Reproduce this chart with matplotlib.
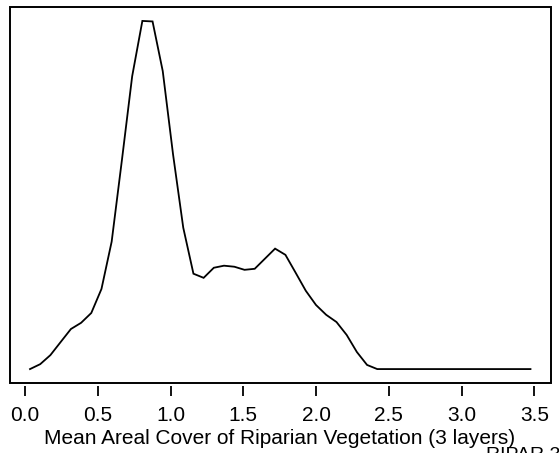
import matplotlib
matplotlib.use("Agg")
import matplotlib.pyplot as plt
from matplotlib.patches import Rectangle

# Density estimate of mean areal cover of riparian vegetation (3 layers)
x_vals = [0.034, 0.104, 0.174, 0.245, 0.315, 0.385, 0.455, 0.525, 0.595, 0.666,
          0.736, 0.806, 0.876, 0.946, 1.017, 1.087, 1.157, 1.227, 1.297, 1.367,
          1.438, 1.508, 1.578, 1.648, 1.718, 1.789, 1.859, 1.929, 1.999, 2.069,
          2.140, 2.210, 2.280, 2.350, 2.420, 2.491, 2.561, 2.631, 2.701, 2.771,
          2.841, 2.912, 2.982, 3.052, 3.122, 3.192, 3.263, 3.333, 3.403, 3.473]
density = [0.000, 0.019, 0.054, 0.105, 0.155, 0.179, 0.217, 0.310, 0.493, 0.811,
           1.133, 1.347, 1.345, 1.153, 0.830, 0.547, 0.369, 0.353, 0.392, 0.400,
           0.396, 0.384, 0.388, 0.427, 0.466, 0.442, 0.373, 0.303, 0.248, 0.210,
           0.182, 0.132, 0.066, 0.016, 0.000, 0.000, 0.000, 0.000, 0.000, 0.000,
           0.000, 0.000, 0.000, 0.000, 0.000, 0.000, 0.000, 0.000, 0.000, 0.000]
x_ticks = [0.0, 0.5, 1.0, 1.5, 2.0, 2.5, 3.0, 3.5]
x_tick_labels = ["0.0", "0.5", "1.0", "1.5", "2.0", "2.5", "3.0", "3.5"]
x_label = "Mean Areal Cover of Riparian Vegetation (3 layers)"
var_name = "RIPAR 3"

plt.rcParams['font.family'] = ['Liberation Sans', 'DejaVu Sans']

W, H = 559, 453
fig = plt.figure(figsize=(W / 100, H / 100), dpi=100)
L, R, T, B = 10, 550.5, 7, 383
ax = fig.add_axes([L / W, (H - B) / H, (R - L) / W, (B - T) / H])

ax.plot(x_vals, density, color='black', lw=1.3, solid_joinstyle='miter')

# R-style 4% padding
xr = max(x_vals) - min(x_vals)
yr = max(density) - min(density)
ax.set_xlim(min(x_vals) - 0.04 * xr, max(x_vals) + 0.04 * xr)
ax.set_ylim(min(density) - 0.04 * yr, max(density) + 0.04 * yr)

for s in ax.spines.values():
    s.set_visible(False)
ax.spines['bottom'].set_position(('outward', 2.5))
ax.add_patch(Rectangle((0, 0), 1, 1, transform=ax.transAxes, fill=False,
                       edgecolor='black', lw=1.4, clip_on=False))

ax.set_yticks([])
ax.set_xticks(x_ticks)
ax.set_xticklabels(x_tick_labels)
ax.tick_params(axis='x', direction='out', length=7.2, width=1.3, pad=7.0,
               labelsize=15, colors='black')

fig.text(280 / W, (H - 443.5) / H, x_label, ha='center', va='baseline', fontsize=15)
fig.text(486 / W, (H - 460) / H, var_name, ha='left', va='baseline', fontsize=14)

fig.savefig("out.png", dpi=100)
